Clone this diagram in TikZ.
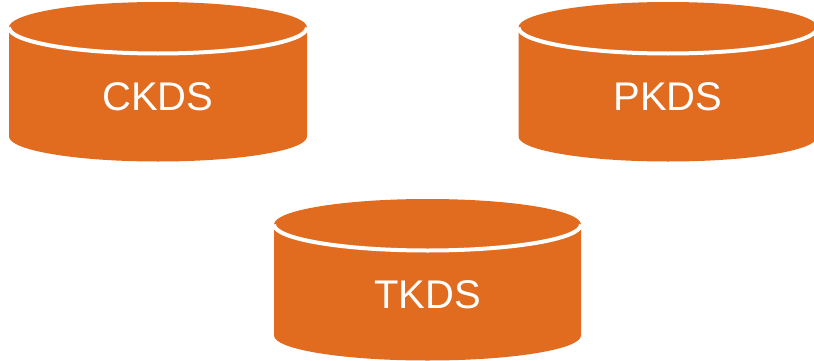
\documentclass[tikz,border=0pt]{standalone}
\usepackage{fontspec}
\setmainfont{Liberation Sans}
\usepackage{tikz}
\definecolor{kds_orange}{RGB}{225,108,32}
\tikzset{
  kds_body/.style={fill=kds_orange, draw=none},
  kds_rim/.style={draw=white, line width=4pt},
  kds_label/.style={text=white, font=\fontsize{40}{40}\selectfont, inner sep=0pt},
}

\begin{document}
\begin{tikzpicture}[x=1pt, y=1pt]
    \useasboundingbox (0,0) rectangle (814,360);
    \clip (0,0) rectangle (814,360);
    \foreach \name/\cx/\cy/\rx/\sidey/\labely in {CKDS/158/332.5/149/109/263, PKDS/668/332.5/149.5/109/263, TKDS/427.5/135.5/153.5/111/65.5} {
      \begin{scope}[shift={(\cx,\cy)}]
        % draw the drum
        \draw[kds_body] (-\rx,0) -- (-\rx,-\sidey) arc [start angle=180, end angle=360, x radius=\rx, y radius=25]
          -- (\rx,0) arc [start angle=0, end angle=180, x radius=\rx, y radius=25.5] -- cycle;
        % white edge of the lid
        \draw[kds_rim] (-\rx,0) arc [start angle=180, end angle=360, x radius=\rx, y radius=26];
      \end{scope}
      \node[kds_label] (\name) at (\cx,\labely) {\name};
    }
\end{tikzpicture}
\end{document}
